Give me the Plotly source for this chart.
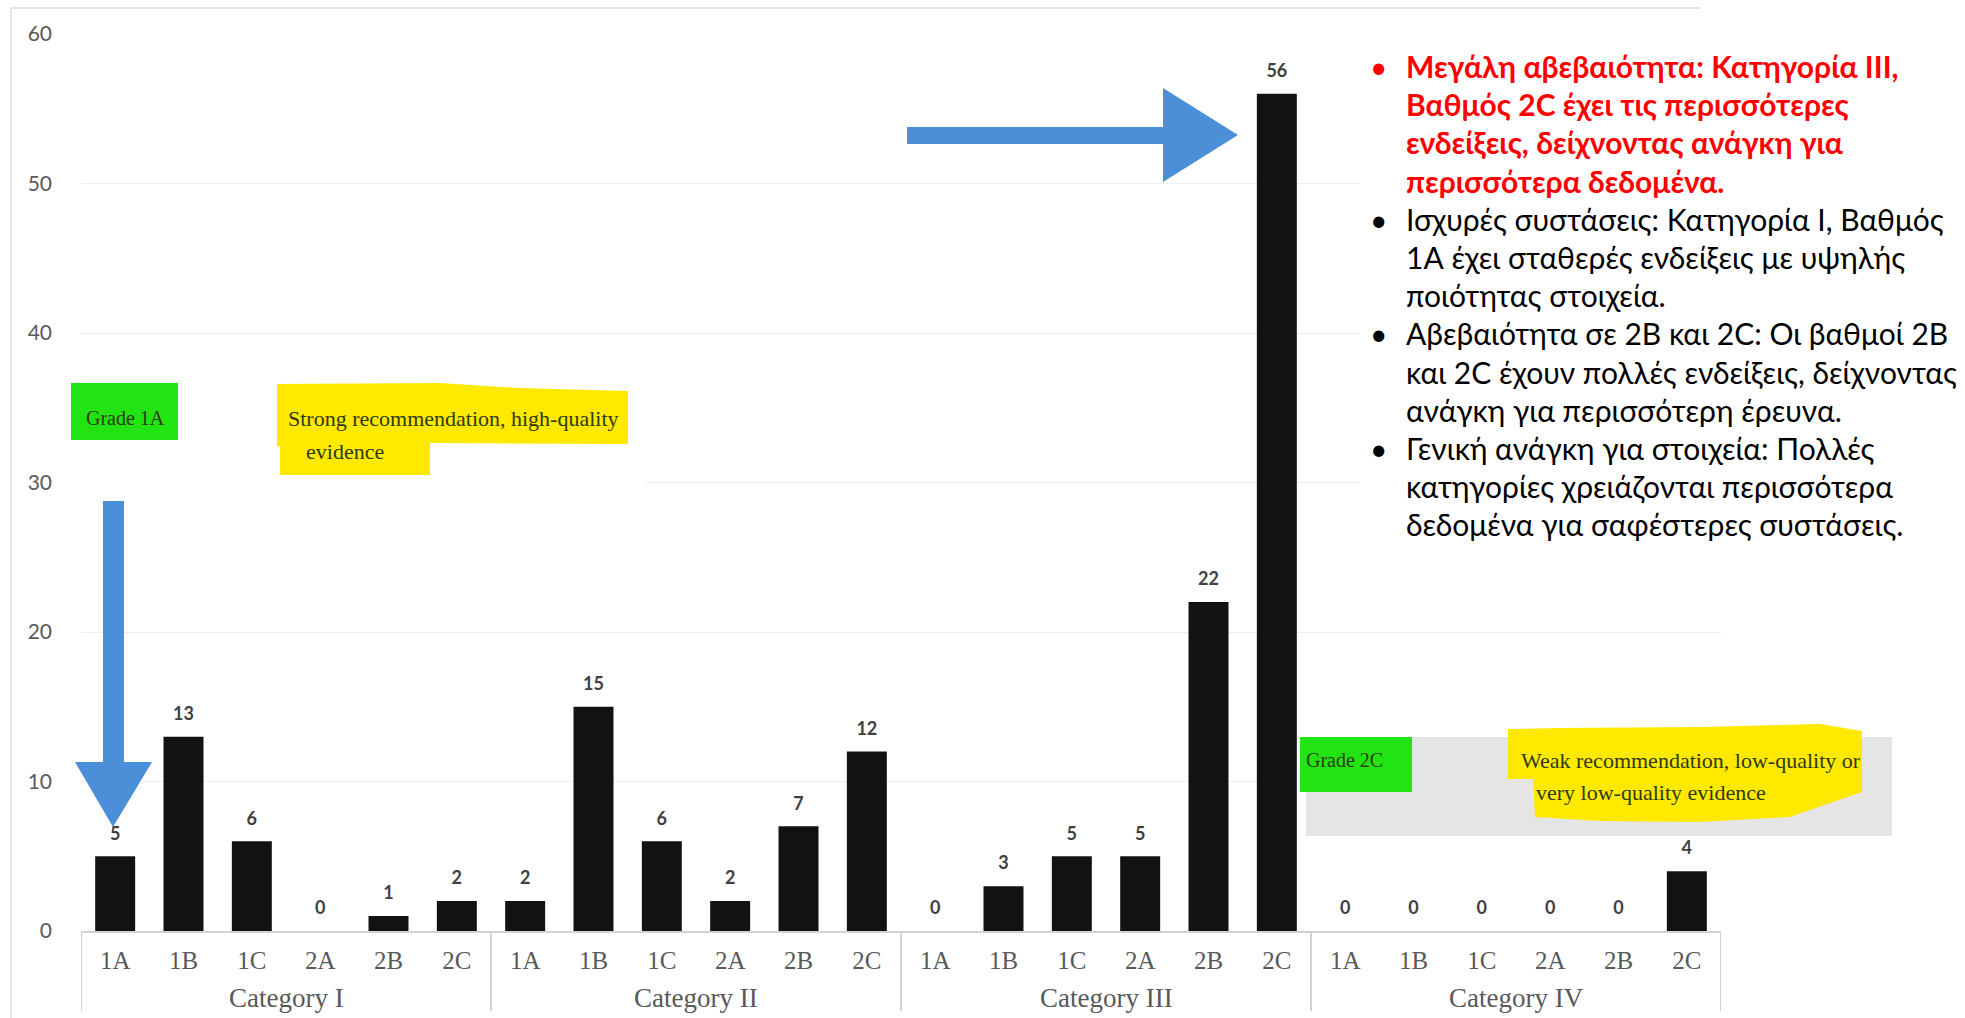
import plotly.graph_objects as go

# ---- data -------------------------------------------------------------
categories = ["Category I", "Category II", "Category III", "Category IV"]
grades = ["1A", "1B", "1C", "2A", "2B", "2C"]
counts_cat_I = [5, 13, 6, 0, 1, 2]
counts_cat_II = [2, 15, 6, 2, 7, 12]
counts_cat_III = [0, 3, 5, 5, 22, 56]
counts_cat_IV = [0, 0, 0, 0, 0, 4]
y_ticks = [0, 10, 20, 30, 40, 50, 60]

notes = [
    ("Μεγάλη αβεβαιότητα: Κατηγορία ΙΙΙ,", True, True),
    ("Βαθμός 2C έχει τις περισσότερες", False, True),
    ("ενδείξεις, δείχνοντας ανάγκη για", False, True),
    ("περισσότερα δεδομένα.", False, True),
    ("Ισχυρές συστάσεις: Κατηγορία Ι, Βαθμός", True, False),
    ("1Α έχει σταθερές ενδείξεις με υψηλής", False, False),
    ("ποιότητας στοιχεία.", False, False),
    ("Αβεβαιότητα σε 2Β και 2C: Οι βαθμοί 2Β", True, False),
    ("και 2C έχουν πολλές ενδείξεις, δείχνοντας", False, False),
    ("ανάγκη για περισσότερη έρευνα.", False, False),
    ("Γενική ανάγκη για στοιχεία: Πολλές", True, False),
    ("κατηγορίες χρειάζονται περισσότερα", False, False),
    ("δεδομένα για σαφέστερες συστάσεις.", False, False),
]

all_counts = [counts_cat_I, counts_cat_II, counts_cat_III, counts_cat_IV]
x_grade = [g for _ in categories for g in grades]
y_vals = [v for block in all_counts for v in block]
x_pos = list(range(len(y_vals)))
n_per = len(grades)

# ---- page geometry (pixels) ---------------------------------------------
W, H = 1965, 1018
PL, PR, PT, PB = 81, 1721, 34, 931


def px(x):
    return (x - PL) / (PR - PL)


def py(y):
    return (PB - y) / (PB - PT)


SERIF = "Liberation Serif, Times New Roman, serif"
SANS = "Lato, Carlito, Calibri, Noto Sans, sans-serif"
AXIS_GREY = "#D2D2D2"
TEXT_GREY = "#595959"
BLUE = "#4A8FD8"
GREEN = "#22E412"
YELLOW = "#FFE900"

fig = go.Figure()

fig.add_bar(
    x=x_pos,
    y=y_vals,
    marker=dict(color="#121212", line=dict(width=0)),
    width=0.585,
    hoverinfo="skip",
)

# value labels above each bar
fig.add_scatter(
    x=x_pos,
    y=y_vals,
    mode="markers+text",
    text=[str(v) for v in y_vals],
    textposition="top center",
    textfont=dict(family=SANS, size=18, color="#404040", weight="bold"),
    marker=dict(size=18, color="rgba(0,0,0,0)"),
    cliponaxis=False,
    hoverinfo="skip",
)

shapes = []
annotations = []

# category group labels and dividers below the axis
for k, cat in enumerate(categories):
    first = k * n_per
    annotations.append(dict(text=cat, xref="x", yref="paper",
                            x=(x_pos[first] + x_pos[first + n_per - 1]) / 2,
                            y=py(998), xanchor="center", yanchor="middle",
                            showarrow=False,
                            font=dict(family=SERIF, size=27, color=TEXT_GREY)))
for k in range(len(categories) + 1):
    xb = k * n_per - 0.5
    shapes.append(dict(type="line", xref="x", yref="paper",
                       x0=xb, x1=xb, y0=0, y1=py(1011),
                       line=dict(color=AXIS_GREY, width=2)))

# faint frame around the chart
shapes.append(dict(type="line", xref="paper", yref="paper",
                   x0=px(10), x1=px(1700), y0=py(8), y1=py(8),
                   line=dict(color="#E6E6E6", width=2)))
shapes.append(dict(type="line", xref="paper", yref="paper",
                   x0=px(11), x1=px(11), y0=py(8), y1=py(1018),
                   line=dict(color="#E6E6E6", width=2)))

# white panels under the notes
shapes.append(dict(type="rect", xref="paper", yref="paper",
                   x0=px(82), x1=px(645), y0=py(397), y1=py(500),
                   fillcolor="white", line=dict(width=0)))
shapes.append(dict(type="rect", xref="paper", yref="paper",
                   x0=px(1360), x1=px(1965), y0=py(45), y1=py(550),
                   fillcolor="white", line=dict(width=0)))

# grey panel behind the grade 2C note
shapes.append(dict(type="rect", xref="paper", yref="paper",
                   x0=px(1306), x1=px(1892), y0=py(737), y1=py(836),
                   fillcolor="#E5E5E5", line=dict(width=0)))

# green grade tags
shapes.append(dict(type="rect", xref="paper", yref="paper",
                   x0=px(71), x1=px(178), y0=py(383), y1=py(440),
                   fillcolor=GREEN, line=dict(width=0)))
shapes.append(dict(type="rect", xref="paper", yref="paper",
                   x0=px(1300), x1=px(1412), y0=py(737), y1=py(792),
                   fillcolor=GREEN, line=dict(width=0)))


def path(points):
    return "M " + " L ".join(f"{px(a):.5f},{py(b):.5f}" for a, b in points) + " Z"


# yellow highlighter marks
shapes.append(dict(type="path", xref="paper", yref="paper",
                   path=path([(277, 384), (440, 383), (520, 388), (628, 391),
                              (628, 444), (430, 443), (430, 475), (280, 475),
                              (280, 446), (277, 446)]),
                   fillcolor=YELLOW, line=dict(width=0)))
shapes.append(dict(type="path", xref="paper", yref="paper",
                   path=path([(1508, 729), (1560, 728), (1700, 727), (1820, 724),
                              (1862, 731), (1862, 792), (1830, 803), (1790, 817),
                              (1700, 822), (1600, 821), (1535, 817), (1533, 779),
                              (1508, 779)]),
                   fillcolor=YELLOW, line=dict(width=0)))

# blue arrows
shapes.append(dict(type="path", xref="paper", yref="paper",
                   path=path([(103, 501), (124, 501), (124, 762), (152, 762),
                              (113, 827), (75, 762), (103, 762)]),
                   fillcolor=BLUE, line=dict(width=0)))
shapes.append(dict(type="path", xref="paper", yref="paper",
                   path=path([(907, 127), (1163, 127), (1163, 88), (1238, 135),
                              (1163, 182), (1163, 144), (907, 144)]),
                   fillcolor=BLUE, line=dict(width=0)))


def note(text, x, y, size=22, family=SERIF, color="#2E3A12", weight="normal"):
    annotations.append(dict(text=text, xref="paper", yref="paper",
                            x=px(x), y=py(y), xanchor="left", yanchor="middle",
                            showarrow=False,
                            font=dict(family=family, size=size, color=color,
                                      weight=weight)))


note("Grade 1A", 84, 418, size=20)
note("Strong recommendation, high-quality", 286, 418)
note("evidence", 304, 451)
note("Grade 2C", 1304, 760, size=20)
note("Weak recommendation, low-quality or", 1519, 760)
note("very low-quality evidence", 1534, 792)

# bullet notes on the right
y0, step = 66, 38.2
for i, (line, bullet, highlight) in enumerate(notes):
    yy = y0 + i * step
    col = "#FF0000" if highlight else "#000000"
    wt = "bold" if highlight else "normal"
    if bullet:
        note("•", 1368, yy, size=30, family=SANS, color=col)
    note(line, 1404, yy, size=30, family=SANS, color=col, weight=wt)

fig.update_layout(
    width=W, height=H,
    margin=dict(l=PL, r=W - PR, t=PT, b=H - PB),
    paper_bgcolor="white", plot_bgcolor="white",
    showlegend=False,
    bargap=0.415,
    shapes=shapes,
    annotations=annotations,
)

fig.update_xaxes(
    range=[-0.5, len(x_pos) - 0.5],
    tickvals=x_pos, ticktext=x_grade,
    showline=True, linecolor=AXIS_GREY, linewidth=2,
    showgrid=False, zeroline=False,
    ticks="", ticklabelstandoff=6,
    tickfont=dict(family=SERIF, size=25, color=TEXT_GREY),
)
fig.update_yaxes(
    range=[0, 60],
    tickvals=y_ticks,
    showgrid=True, gridcolor="#EFEFEF", gridwidth=1,
    zeroline=False, showline=False,
    tickfont=dict(family=SANS, size=21, color=TEXT_GREY),
    ticklabelstandoff=28,
)

fig.write_html("out.html")
